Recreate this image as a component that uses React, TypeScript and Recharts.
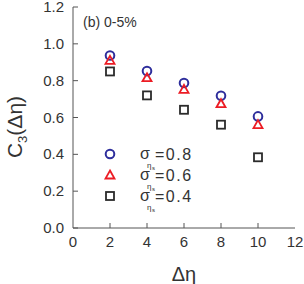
import { ScatterChart, Scatter, XAxis, YAxis } from "recharts";

const deta = [2, 4, 6, 8, 10];
const sigma08 = [0.937, 0.852, 0.787, 0.718, 0.606];
const sigma06 = [0.91, 0.816, 0.753, 0.675, 0.561];
const sigma04 = [0.85, 0.72, 0.642, 0.561, 0.384];
const xTicks = [0, 2, 4, 6, 8, 10, 12];
const yTicks = [0, 0.2, 0.4, 0.6, 0.8, 1.0, 1.2];
const legendLabels = ["=0.8", "=0.6", "=0.4"];

const toPoints = (ys: number[]) => deta.map((x, i) => ({ x, y: ys[i] }));

const BLUE = "#2e2e9c";
const RED = "#ec1c24";
const BLACK = "#2b2b2b";
const FRAME = "#555";
const INK = "#333";
const FONT = "Liberation Sans, Arial, sans-serif";

const Circle = (p: any) => (
  <circle cx={p.cx} cy={p.cy} r={4.3} fill="none" stroke={BLUE} strokeWidth={2} />
);
const Tri = (p: any) => (
  <path
    d={`M${p.cx},${p.cy - 4.5} L${p.cx + 4.5},${p.cy + 3.5} L${p.cx - 4.5},${p.cy + 3.5} Z`}
    fill="none" stroke={RED} strokeWidth={1.8}
  />
);
const Sq = (p: any) => (
  <rect x={p.cx - 4} y={p.cy - 4} width={8} height={8} fill="none" stroke={BLACK} strokeWidth={1.8} />
);
const shapes = [Circle, Tri, Sq];

const XTick = ({ x, y, payload }: any) => (
  <g>
    {payload.value > 0 && payload.value < 12 && <line x1={x} x2={x} y1={y} y2={y - 5} stroke={FRAME} />}
    <text x={x} y={y + 19} textAnchor="middle" fontSize={15} fill={INK} fontFamily={FONT}>
      {payload.value}
    </text>
  </g>
);
const YTick = ({ x, y, payload }: any) => (
  <g>
    <line x1={x} x2={x + 5} y1={y} y2={y} stroke={FRAME} />
    <text x={x - 9} y={y + 5} textAnchor="end" fontSize={15} fill={INK} fontFamily={FONT}>
      {payload.value.toFixed(1)}
    </text>
  </g>
);

export default function App() {
  return (
    <div style={{ position: "absolute", left: 0, top: 0, width: 304, height: 284, background: "#fff" }}>
      <ScatterChart width={304} height={284} margin={{ top: 7, right: 9, left: 0, bottom: 0 }}>
        <XAxis
          type="number" dataKey="x" domain={[0, 12]} ticks={xTicks} height={56} interval={0}
          tick={<XTick />} tickLine={false} tickSize={0} tickMargin={0}
          axisLine={{ stroke: FRAME }}
        />
        <XAxis xAxisId="top" orientation="top" type="number" domain={[0, 12]} height={0} tick={false} tickLine={false} axisLine={{ stroke: FRAME }} />
        <YAxis
          type="number" dataKey="y" domain={[0, 1.2]} ticks={yTicks} width={73} interval={0}
          tick={<YTick />} tickLine={false} tickSize={0} tickMargin={0}
          axisLine={{ stroke: FRAME }}
        />
        <YAxis yAxisId="right" orientation="right" type="number" domain={[0, 1.2]} width={0} tick={false} tickLine={false} axisLine={{ stroke: FRAME }} />
        <Scatter data={toPoints(sigma08)} shape={<Circle />} isAnimationActive={false} />
        <Scatter data={toPoints(sigma06)} shape={<Tri />} isAnimationActive={false} />
        <Scatter data={toPoints(sigma04)} shape={<Sq />} isAnimationActive={false} />
        <text x={83} y={27} fontSize={14} fill={INK} fontFamily={FONT}>(b) 0-5%</text>
        <text x={184} y={281} textAnchor="middle" fontSize={20} fill={INK} fontFamily={FONT}>Δη</text>
        <text transform="translate(22, 127) rotate(-90)" textAnchor="middle" fontSize={21} fill={INK} fontFamily={FONT}>
          C<tspan fontSize={13} dy={5}>3</tspan><tspan dy={-5}>(Δη)</tspan>
        </text>
        {legendLabels.map((label, i) => {
          const Shape = shapes[i];
          return (
            <g key={label} transform={`translate(0, ${i * 21})`}>
              <Shape cx={110} cy={154} />
              <text x={140} y={159} fontSize={16} fill={INK} fontFamily={FONT}>σ</text>
              <text x={147} y={168} fontSize={8} fill={INK} fontFamily={FONT}>η</text>
              <text x={152} y={170} fontSize={6} fill={INK} fontFamily={FONT}>s</text>
              <text x={155} y={160} fontSize={16} fill={INK} fontFamily={FONT} letterSpacing={1.5}>{label}</text>
            </g>
          );
        })}
      </ScatterChart>
    </div>
  );
}
